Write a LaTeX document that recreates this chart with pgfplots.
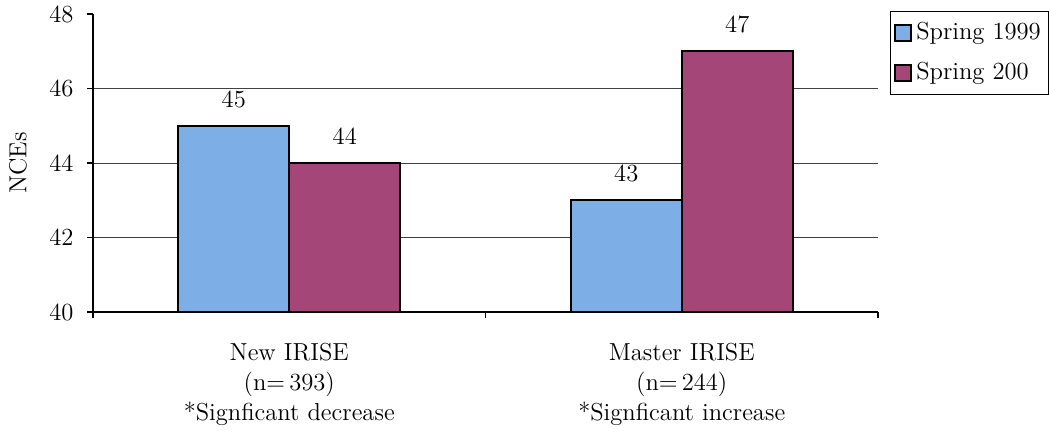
\documentclass[border=0pt]{standalone}
\usepackage{pgfplots}
\pgfplotsset{compat=1.18}
\definecolor{springA}{RGB}{125,175,230}
\definecolor{springB}{RGB}{165,70,120}
\newcommand{\chartfont}{\fontsize{12.3}{14}\selectfont}
\begin{document}
\chartfont
\begin{tikzpicture}
\begin{axis}[
  name=ax,
  scale only axis, width=392.5pt, height=149pt,
  ybar=0pt, bar width=55.5pt,
  xmin=-0.5, xmax=1.5, ymin=40, ymax=48,
  axis x line*=bottom, axis y line*=left,
  axis line style={black, line width=0.6pt},
  tick align=outside,
  major tick length=3pt, minor tick length=3pt,
  tick style={black, line width=0.6pt},
  ytick={40,42,44,46},
  extra y ticks={48},
  extra y tick style={grid=none},
  ymajorgrids,
  major grid style={black!75, line width=0.5pt},
  /pgf/number format/assume math mode=true,
  yticklabel style={font=\chartfont, xshift=-2.5pt},
  xtick={0,1},
  major x tick style={draw=none},
  minor xtick={-0.5,0.5,1.5},
  xticklabels={{New IRISE\\(n=\,393)\\*Signficant decrease},
               {Master IRISE\\(n=\,244)\\*Signficant increase}},
  xticklabel style={align=center, font=\fontsize{12.3}{14.9}\selectfont, yshift=-8.5pt},
  ylabel={NCEs},
  ylabel style={at={(axis description cs:-0.0955,0.5)}, anchor=center, font=\chartfont},
  nodes near coords,
  every node near coord/.append style={font=\chartfont, yshift=4.5pt, black},
  legend style={at={(rel axis cs:1.015,1.01)}, anchor=north west,
    draw=black, line width=0.5pt, font=\chartfont,
    row sep=5.5pt, inner xsep=2pt, inner ysep=3.5pt},
  legend cell align=left,
]
\addplot[fill=springA, draw=black, line width=1pt,
  legend image code/.code={\draw[fill=springA, draw=black, line width=1pt] (0pt,-4pt) rectangle (8pt,4pt);}]
  coordinates {(0,45) (1,43)};
\addplot[fill=springB, draw=black, line width=1pt,
  legend image code/.code={\draw[fill=springB, draw=black, line width=1pt] (0pt,-4pt) rectangle (8pt,4pt);}]
  coordinates {(0,44) (1,47)};
\legend{Spring 1999, Spring 200}
\end{axis}
\pgfresetboundingbox
\path (ax.south west) ++(-46.5pt,-62pt) rectangle ++(524.5pt,218pt);
\end{tikzpicture}
\end{document}
